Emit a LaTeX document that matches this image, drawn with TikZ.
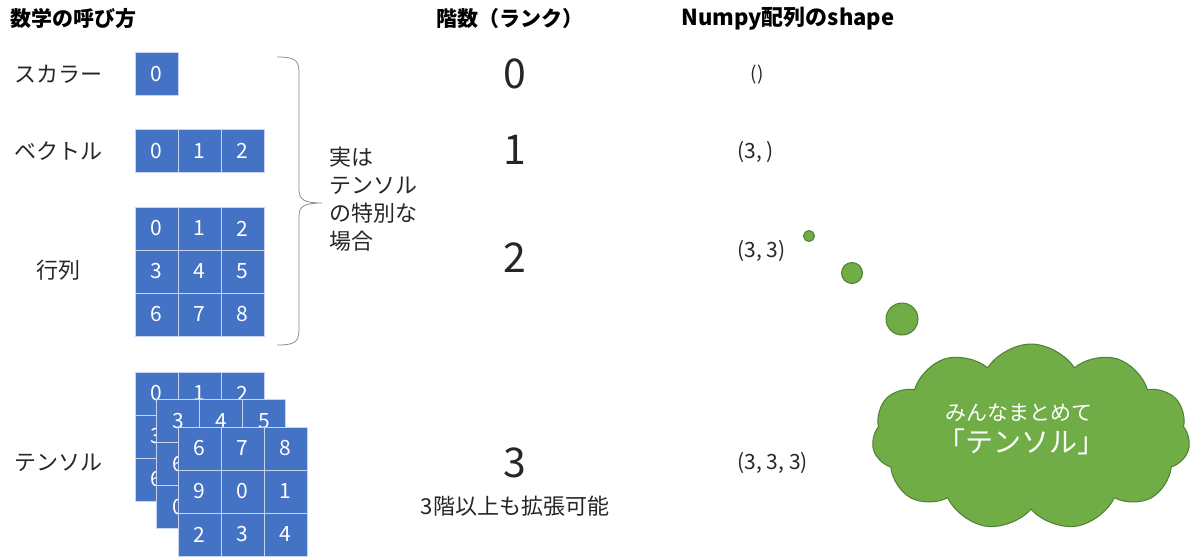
\documentclass[tikz,border=0pt]{standalone}
\usepackage{fontspec}
\setmainfont{Noto Sans CJK JP}
\usepackage{tikz}
\usetikzlibrary{shapes.symbols}
\definecolor{cellblue}{HTML}{4472C4}
\definecolor{celledge}{HTML}{C9D5EE}
\definecolor{leaf}{HTML}{70AD47}
\definecolor{leafedge}{HTML}{507E32}
\definecolor{ink}{HTML}{262626}
\tikzstyle{cell}=[rectangle,fill=cellblue,draw=celledge,line width=1pt,minimum size=43pt,inner sep=0pt,text=white,font=\fontsize{21}{24}\selectfont]
\tikzstyle{head}=[font=\fontsize{21}{24}\selectfont\bfseries,text=black]
\tikzstyle{label}=[font=\fontsize{22}{28}\selectfont,text=ink]
\tikzstyle{rank}=[font=\fontsize{41}{44}\selectfont,text=ink]
\tikzstyle{dims}=[font=\fontsize{21}{24}\selectfont,text=ink,anchor=west]
\tikzstyle{bubble}=[circle,fill=leaf,draw=leafedge,line width=1pt,inner sep=0pt]
% 3x3 block of cells, #1/#2 = top left corner, #3 = name, #4 = the nine digits
\newcommand{\cellgrid}[4]{%
    \foreach \d [count=\k from 0] in {#4} {
        \pgfmathtruncatemacro\cx{mod(\k,3)}
        \pgfmathtruncatemacro\cy{div(\k,3)}
        \node[cell] (#3-\k) at ({#1+21.5+43*\cx},{#2+21.5+43*\cy}) {\d};
    }}

\begin{document}
\begin{tikzpicture}[x=1pt,y=-1pt]
    \useasboundingbox (0,0) rectangle (1194,557);

    % column heads
    \node[head,anchor=west] (hname) at (7,19) {数学の呼び方};
    \node[head] (hrank) at (510,19) {階数（ランク）};
    \node[head,anchor=west,font=\fontsize{22}{24}\selectfont\bfseries] (hshape) at (678,19) {Numpy配列のshape};

    % names on the left
    \foreach \y/\name/\txt in {74/scalar/スカラー, 151/vector/ベクトル, 463/tensor/テンソル}
        \node[label,anchor=west] (l\name) at (11,\y) {\txt};
    \node[label] (lmatrix) at (58,270) {行列};

    % scalar and vector
    \node[cell] (s-0) at (156.5,74) {0};
    \foreach \d [count=\k from 0] in {0,1,2}
        \node[cell] (v-\k) at ({156.5+43*\k},151) {\d};

    % matrix and the stacked tensor
    \cellgrid{135}{207}{m}{0,1,2,3,4,5,6,7,8}
    \cellgrid{135}{372}{ta}{0,1,2,3,4,5,6,7,8}
    \cellgrid{156.5}{399.5}{tb}{3,4,5,6,7,8,0,1,2}
    \cellgrid{178}{427}{tc}{6,7,8,9,0,1,2,3,4}

    % brace over the first three
    \draw[black!45,line width=0.8pt] (277,57) .. controls (293,57) and (299,59) .. (299,72)
        -- (299,190) .. controls (299,200) and (305,203) .. (322,203)
        .. controls (305,203) and (299,206) .. (299,216)
        -- (299,330) .. controls (299,343) and (293,345) .. (277,345);
    \node[label,anchor=north west,align=left,font=\fontsize{22}{28}\selectfont] (note) at (326,143)
        {実は\\テンソル\\の特別な\\場合};

    % ranks
    \foreach \y/\r in {74/0, 150/1, 258/2, 463/3}
        \node[rank] (r\r) at (515,\y) {\r};
    \node[label,font=\fontsize{22}{24}\selectfont] (more) at (515,506) {3階以上も拡張可能};

    % shapes
    \node[dims,anchor=center,font=\fontsize{19}{22}\selectfont] (sh0) at (757,75) {()};
    \foreach \y/\n/\txt in {152/1/{(3, )}, 251/2/{(3, 3)}, 463/3/{(3, 3, 3)}}
        \node[dims] (sh\n) at (734,\y) {\txt};

    % thought bubble
    \node[bubble,minimum size=11pt] (b1) at (809,236) {};
    \node[bubble,minimum size=21pt] (b2) at (852,273) {};
    \node[bubble,minimum size=32pt] (b3) at (902,319) {};
    \node[cloud,cloud puffs=11,cloud puff arc=115,aspect=1.7,fill=leaf,draw=leafedge,line width=1pt,
        minimum width=318pt,minimum height=186pt,inner sep=0pt] (all) at (1031,437) {};
    \node[text=white,font=\fontsize{21}{24}\selectfont] (all1) at (1019,413) {みんなまとめて};
    \node[text=white,font=\fontsize{28}{32}\selectfont] (all2) at (1021,442) {「テンソル」};
\end{tikzpicture}
\end{document}
